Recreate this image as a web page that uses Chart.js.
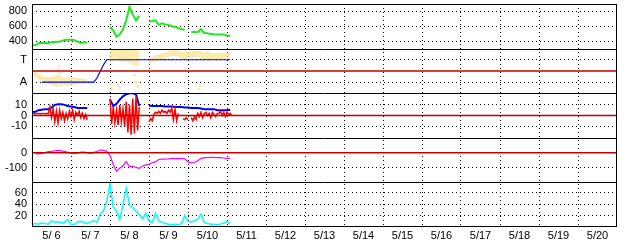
<!DOCTYPE html>
<html>
<head>
<meta charset="utf-8">
<script src="https://cdn.jsdelivr.net/npm/chart.js@4.4.1/dist/chart.umd.min.js"></script>
<style>
  html, body { margin: 0; padding: 0; background: #fff; }
</style>
</head>
<body>
<canvas id="swChart" width="628" height="244"></canvas>
<script>
// time axis: hours since 5/6 00:00, most series sampled every 2 h
const STEP = 2;
const dayLabels = ['5/ 6', '5/ 7', '5/ 8', '5/ 9', '5/10', '5/11', '5/12', '5/13',
  '5/14', '5/15', '5/16', '5/17', '5/18', '5/19', '5/20'];

// panel 1 - solar wind speed (green)
const speed = [345, 345, 370, 378, 375, 372, 385, 390, 392, 400, 415, 418, 418, 415, 395, 375, 385, 380,
  null, null, null, null, null, null,
  590, 545, 460, 490, 560, 680, 860, 760, 680, 740,
  null, null,
  665, 670, 680, 620, 640, 625, 620, 600, 595, 575, 560, 555, null,
  525, 525, 520, 560, 510, 505, 495, 492, 490, 490, 490, 478, 468];
const speedTicks = [400, 600, 800];

// panel 2 - sector (yellow band) and T/A level (blue)
const sectorHi = [0.0, -0.1, -0.3, -0.5, -0.6, -0.6, -0.6, -0.5, -0.4, -0.6, -0.7, -0.6, -0.7, -0.6, -0.7, -0.7, -0.8, -0.8,
  null, null, null, null, null, null,
  1.9, 2.0, 1.9, 1.9, 1.8, 2.0, 1.9, 1.8, 1.9, 1.6,
  null, null,
  1.0, 1.2, 1.4, 1.4, 1.5, 1.6, 1.7, 1.8, 1.8, 1.8, 1.6, 1.7, 1.7, 1.7, 1.7, 1.8, 1.7, 1.6, 1.7, 1.6,
  1.5, 1.6, 1.6, 1.5, 1.6, 1.6];
const sectorLo = [-0.3, -0.5, -0.7, -0.9, -1.0, -1.1, -1.2, -1.3, -1.4, -1.3, -1.2, -1.3, -1.3, -1.2, -1.1, -1.1, -1.0, -1.0,
  null, null, null, null, null, null,
  0.6, 0.9, 1.0, 0.9, 0.8, 0.9, 0.8, 0.6, 0.5, 0.6,
  null, null,
  0.6, 0.8, 0.9, 1.0, 1.1, 1.2, 1.3, 1.4, 1.4, 1.3, 1.2, 1.1, 1.3, 1.2, 1.3, 1.3, 1.2, 1.1, 1.1, 1.0,
  1.0, 1.1, 1.1, 1.1, 1.2, 1.2];
const sectorOutH = [16.5, 17, 48.5, 49, 53, 54, 55, 63, 64, 65, 103, 103.5];
const sectorOutV = [0.4, -0.2, -1.2, -1.6, -1.3, -1.5, -0.9, -0.4, -1.0, -1.4, -1.6, -1.3];
const sectorLevel = [null, null, null,
  -1, -1, -1, -1, -1, -1, -1, -1, -1, -1, -1, -1, -1, -1, -1, -1, -1,
  -0.64, -0.04, 0.55,
  1, 1, 1, 1, 1, 1, 1, 1, 1, 1, 1, 1, 1, 1, 1, 1, 1, 1, 1, 1,
  1, 1, 1, 1, 1, 1, 1, 1, 1, 1, 1, 1, 1, 1, 1, 1, 1, 1, 1];
const sectorTicks = [1, -1];
const sectorTickLabels = ['T', 'A'];

// panel 3 - Bt (blue, 2 h) and Bz (red, hourly)
const bt = [3, 3.5, 5, 5.5, 6, 6, 7.5, 10, 10.5, 10.5, 10, 9, 8.5, 8, 7, 7, 7, 7,
  null, null, null, null, null, null,
  15, 9, 11, 15, 18, 20, 21, 21, 20, 9,
  null, null,
  9.5, 9, 9, 9, 9, 8.5, 8.5, 8.5, 8, 8, 8, 7.5, 7.5, 7, 7, 7, 6.5, 6, 6, 6,
  6, 5, 5, 5, 5, 5.5];
const bz = [3, 2, 1.5, 2,
  2, 1.5, 2, 2, 1.5, 2, 1.5,
  8,
  -2, 6, -6, 4, -7, 5, -3, 3, -5,
  2, -3, 4, -1, 5, -4, 3, 0, 4, -2, 2, -3, 1, -4,
  null, null, null, null, null, null, null, null, null, null, null, null, null,
  16, -8, 8, -7, 5, -9, 10, -6, 6, -10, 13, -16, 10, -18, 16, -17, 18, -14, 8,
  null, null, null, null, null,
  -6, -3, -5,
  1, 3, 2, 4, 2, 5, 3, 4, 2, 5, 3,
  7, -4, 6, -5, 2,
  null, null,
  -3, -4, -2, -4,
  null,
  -2, -5, -1, -4,
  2, -1, 3, -2, 2,
  3, 0, 2, -2, 3, 1, -1, 2,
  2, 4, 0, 3, -1, 3, 1, 2, 0];
const bTicks = [10, 0, -10];

// panel 4 - Dst (magenta)
const dst = [null, -5, -8, -5, 0, 7, 9, 13, 16, 12, 9, 2, -4, -5, -4, 3, 4, 0, -4, 2, 8, 18, 16, 9,
  -18, -80, -125, -105, -88, -60, -95, -90, -100, -105, -90, -82, -78, -68, -62, -46, -44, -43, -42, -40,
  -40, -38, -40, -42, -62, -68, -66, -55, -40, -33, -33, -32, -32, -33, -33, -36, -40, -35];
const dstTicks = [0, -100];

// panel 5 - cyan index
const cyanIdx = [4, 6, 5, 7, 6, 5, 11, 8, 9, 7, 8, 13, 5, 4, 9, 10, 8, 6, 9, 11,
  8, 23, 28, 45, 76, 35, 28, 13, 40, 68, 38, 34, 28, 22, 14, 24, 10, 8, 24, 10,
  9, 6, 5, 4, 5, 4, 6, 20, 10, 9, 11, 14, 22, 8, 6, 5, 5, 4, 5, 7, 10, 6];
const cyanTicks = [20, 40, 60];

const toPts = (arr, step) => arr.map((v, i) => ({ x: i * step, y: v }));
const zeroLine = [{ x: 0, y: 0 }, { x: 360, y: 0 }];
const font = { family: "'Liberation Sans', Arial, sans-serif", size: 11 };
const dotted = [1, 3];

const noPad = (s) => { s.paddingTop = 0; s.paddingBottom = 0; s.paddingLeft = 0; s.paddingRight = 0; };

function panelAxis(min, max, ticks, labels) {
  return {
    type: 'linear', position: 'left', stack: 'sw', stackWeight: 1, min: min, max: max,
    afterBuildTicks: (s) => { s.ticks = ticks.map((v) => ({ value: v })); },
    afterFit: (s) => { s.width = 32; noPad(s); },
    grid: { color: '#000', lineWidth: 1, drawTicks: false },
    border: { display: false, dash: dotted },
    ticks: {
      autoSkip: false, color: '#000', padding: 5, font: font,
      callback: (v) => labels ? labels[ticks.indexOf(v)] : v
    }
  };
}

// clip each series to its own panel, draw panel frames
const panelFrame = {
  id: 'panelFrame',
  beforeDatasetDraw(chart, args) {
    const ys = chart.scales[args.meta.yAxisID];
    const a = chart.chartArea;
    chart.ctx.save();
    chart.ctx.beginPath();
    chart.ctx.rect(a.left, ys.top, a.right - a.left, ys.bottom - ys.top);
    chart.ctx.clip();
  },
  afterDatasetDraw(chart) {
    chart.ctx.restore();
  },
  afterDraw(chart) {
    const ctx = chart.ctx;
    const a = chart.chartArea;
    ctx.save();
    ctx.strokeStyle = '#000';
    ctx.lineWidth = 1;
    ctx.strokeRect(Math.round(a.left) + 0.5, Math.round(a.top) + 0.5,
      Math.round(a.right - a.left) - 1, Math.round(a.bottom - a.top) - 1);
    ['yS', 'yM', 'yB', 'yD'].forEach((id) => {
      const y = Math.round(chart.scales[id].bottom) + 0.5;
      ctx.beginPath();
      ctx.moveTo(a.left, y);
      ctx.lineTo(a.right, y);
      ctx.stroke();
    });
    ctx.restore();
  }
};

const line = (data, yAxisID, color, width, order) => ({
  data: data, yAxisID: yAxisID, borderColor: color, backgroundColor: color,
  borderWidth: width, pointRadius: 0, tension: 0, fill: false, order: order
});

const band = 'rgba(248,226,140,0.7)';

new Chart(document.getElementById('swChart'), {
  type: 'line',
  data: {
    datasets: [
      line(zeroLine, 'yM', '#c00000', 1.5, 0),
      line(zeroLine, 'yB', '#c00000', 1.5, 0),
      line(zeroLine, 'yD', '#c00000', 1.5, 0),
      line(toPts(speed, STEP), 'yS', '#22e622', 2, 1),
      line(toPts(sectorLevel, STEP), 'yM', '#0000ff', 1.2, 1),
      line(toPts(sectorHi, STEP), 'yM', band, 1, 3),
      Object.assign(line(toPts(sectorLo, STEP), 'yM', band, 1, 3), { fill: '-1' }),
      Object.assign(line(sectorOutH.map((h, i) => ({ x: h, y: sectorOutV[i] })), 'yM', 'rgb(248,226,140)', 0, 3),
        { showLine: false, pointRadius: 1.2, pointBorderWidth: 0 }),
      line(toPts(bz, 1), 'yB', '#ff0000', 1.5, 1),
      line(toPts(bt, STEP), 'yB', '#0000ff', 2, 2),
      line(toPts(dst, STEP), 'yD', '#ff00ff', 1.2, 1),
      line(toPts(cyanIdx, STEP), 'yK', '#00ffff', 1.5, 1)
    ]
  },
  options: {
    responsive: false,
    animation: false,
    layout: { padding: { top: 2, right: 11, left: 0, bottom: 0 } },
    plugins: { legend: { display: false }, tooltip: { enabled: false } },
    scales: {
      x: {
        type: 'linear', min: 0, max: 360,
        afterBuildTicks: (s) => {
          const t = [];
          for (let h = 0; h <= 360; h += 12) t.push({ value: h });
          s.ticks = t;
        },
        afterFit: (s) => { s.height = 17; noPad(s); },
        grid: {
          drawTicks: false, lineWidth: 1,
          color: (c) => (c.tick && c.tick.value % 24 === 0 && c.tick.value > 0 && c.tick.value < 360) ? '#000' : 'rgba(0,0,0,0)'
        },
        border: { display: false, dash: dotted },
        ticks: {
          autoSkip: false, maxRotation: 0, padding: 2, color: '#000', font: font,
          callback: (v) => (v % 24 === 12) ? dayLabels[(v - 12) / 24] : ''
        }
      },
      yK: panelAxis(0, 78, cyanTicks),
      yD: panelAxis(-200, 100, dstTicks),
      yB: panelAxis(-21, 21, bTicks),
      yM: panelAxis(-2, 2, sectorTicks, sectorTickLabels),
      yS: panelAxis(300, 900, speedTicks)
    }
  },
  plugins: [panelFrame]
});
</script>
</body>
</html>
